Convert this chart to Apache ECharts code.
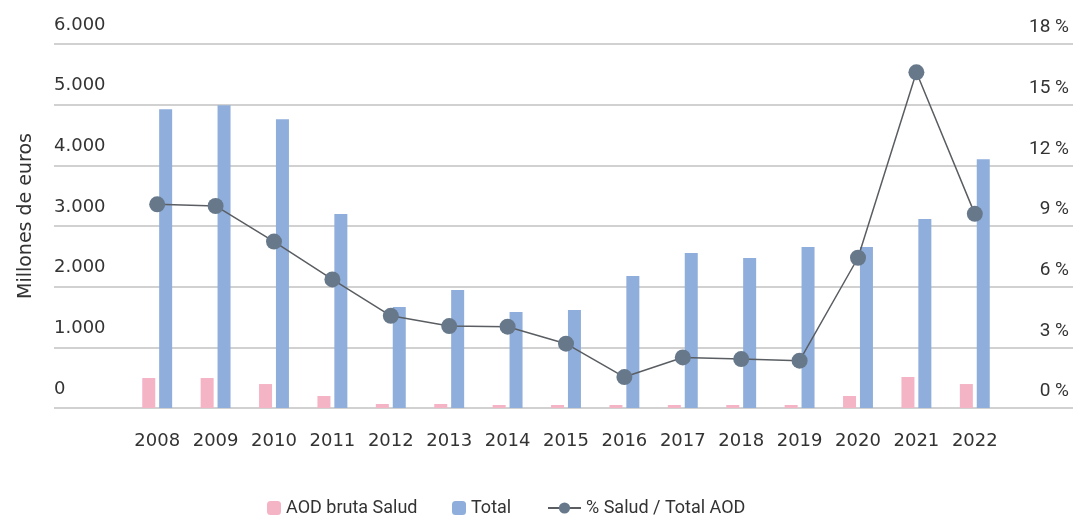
<!DOCTYPE html>
<html lang="es">
<head>
    <meta charset="utf-8">
    <title>AOD Salud</title>
    <script src="https://cdn.jsdelivr.net/npm/echarts@6.0.0/dist/echarts.min.js"></script>
    <style>
        html, body { margin: 0; padding: 0; background: #fff; }
        #chart { width: 1076px; height: 516px; }
    </style>
</head>
<body>
<div id="chart"></div>
<script type="text/javascript">

// datos
var years = ['2008', '2009', '2010', '2011', '2012', '2013', '2014', '2015',
             '2016', '2017', '2018', '2019', '2020', '2021', '2022'];
var aodSalud = [494, 494, 395, 198, 66, 66, 49, 49, 49, 49, 49, 49, 198, 511, 395];
var aodTotal = [4926, 4990, 4761, 3196, 1664, 1944, 1582, 1614, 2175, 2554, 2471, 2652, 2652, 3114, 4102];
var pctSalud = [10.07, 9.99, 8.23, 6.36, 4.56, 4.05, 4.02, 3.18, 1.53, 2.5, 2.42, 2.34, 7.43, 16.6, 9.6];

var leftTicks = ['0', '1.000', '2.000', '3.000', '4.000', '5.000', '6.000'];
var rightTicks = ['0 %', '3 %', '6 %', '9 %', '12 %', '15 %', '18 %'];

var FONT = 'Roboto';
var NUMFONT = 'DejaVu Sans';
var TXT = '#333333';

var chart = echarts.init(document.getElementById('chart'));

function legendBox(name, left, w) {
    return {
        data: [name],
        left: left,
        top: 494,
        itemWidth: w,
        itemHeight: 14,
        itemGap: 0,
        selectedMode: false,
        textStyle: { fontFamily: FONT, fontSize: 18, color: TXT }
    };
}

var option = {
    animation: false,
    backgroundColor: '#ffffff',
    legend: [
        legendBox('AOD bruta Salud', 262, 14),
        legendBox('Total', 447, 14),
        legendBox('% Salud / Total AOD', 542, 33)
    ],
    grid: [
        // rejilla ancha: lineas y etiquetas de los ejes
        { left: 54, right: 3, top: 44, bottom: 108 },
        // rejilla de las series
        { left: 128, right: 72, top: 44, bottom: 108 }
    ],
    xAxis: [
        { type: 'category', gridIndex: 0, data: years, show: false },
        {
            type: 'category', gridIndex: 1, data: years,
            axisLine: { show: false },
            axisTick: { show: false },
            axisLabel: { interval: 0, fontFamily: NUMFONT, fontSize: 18, color: TXT, margin: 24 }
        }
    ],
    yAxis: [
        {
            type: 'value', gridIndex: 0, min: 0, max: 6000, interval: 1000,
            name: 'Millones de euros',
            nameLocation: 'middle',
            nameRotate: 90,
            nameGap: 18,
            nameTextStyle: { fontFamily: NUMFONT, fontSize: 19, color: TXT, padding: [0, 0, 0, 20] },
            axisLine: { show: false },
            axisTick: { show: false },
            splitLine: { lineStyle: { color: '#c2c2c2', width: 1.5 } },
            axisLabel: {
                inside: true, margin: 0, align: 'left', verticalAlign: 'bottom',
                padding: [0, 0, 10, 0],
                fontFamily: NUMFONT, fontSize: 18, color: TXT,
                formatter: function (v) { return leftTicks[Math.round(v / 1000)]; }
            }
        },
        {
            type: 'value', gridIndex: 0, position: 'right', min: 0, max: 18, interval: 3,
            axisLine: { show: false },
            axisTick: { show: false },
            splitLine: { show: false },
            axisLabel: {
                inside: true, margin: 4, align: 'right', verticalAlign: 'bottom',
                padding: [0, 0, 7, 0],
                fontFamily: FONT, fontSize: 19, color: TXT,
                formatter: function (v) { return rightTicks[Math.round(v / 3)]; }
            }
        },
        { type: 'value', gridIndex: 1, min: 0, max: 6000, interval: 1000, show: false, splitLine: { show: false } },
        { type: 'value', gridIndex: 1, min: 0, max: 18, interval: 3, show: false, splitLine: { show: false } }
    ],
    series: [
        {
            name: 'AOD bruta Salud', type: 'bar',
            xAxisIndex: 1, yAxisIndex: 2,
            data: aodSalud,
            barWidth: 13, barGap: '30%',
            itemStyle: { color: '#f5b3c6' }
        },
        {
            name: 'Total', type: 'bar',
            xAxisIndex: 1, yAxisIndex: 2,
            data: aodTotal,
            barWidth: 13, barGap: '30%',
            itemStyle: { color: '#8faedb' }
        },
        {
            name: '% Salud / Total AOD', type: 'line',
            xAxisIndex: 1, yAxisIndex: 3,
            data: pctSalud,
            symbol: 'circle', symbolSize: 16,
            lineStyle: { color: '#5a5e62', width: 1.5 },
            itemStyle: { color: '#66788a' },
            z: 5
        }
    ]
};

chart.setOption(option);

</script>
</body>
</html>
